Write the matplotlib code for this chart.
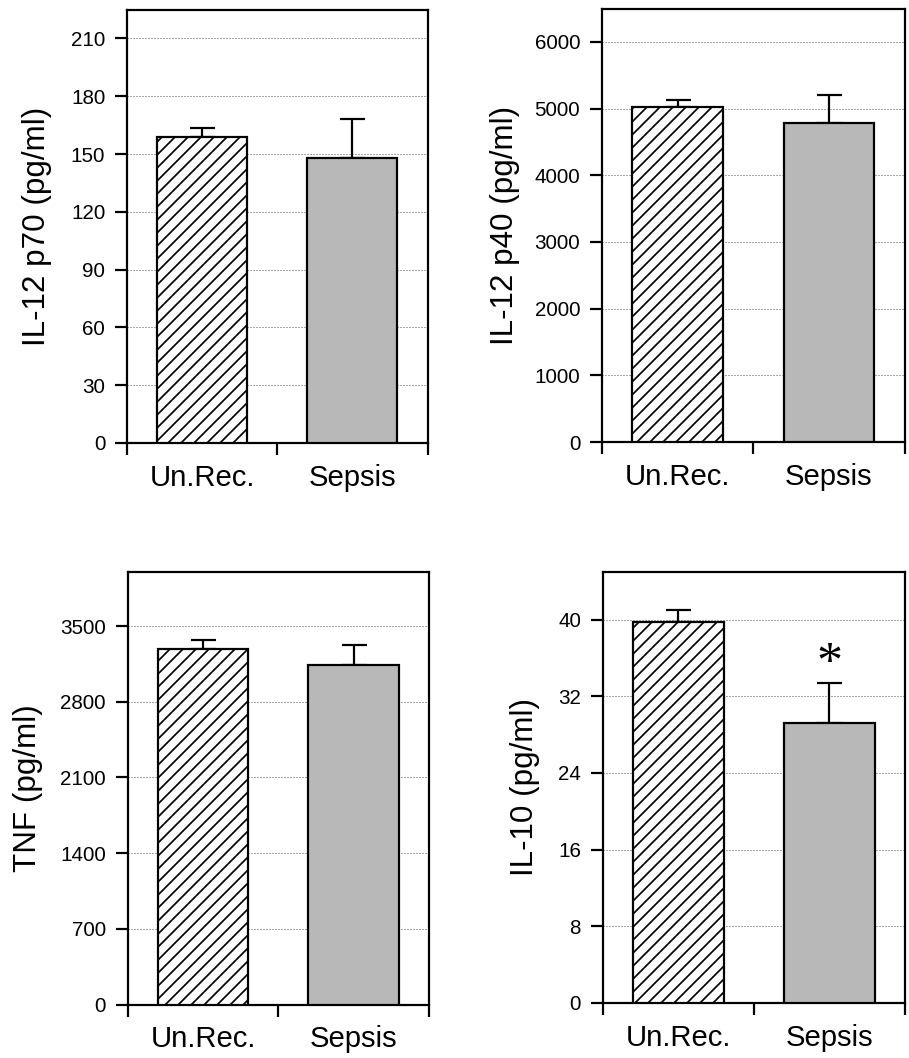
import matplotlib
matplotlib.use("Agg")
import matplotlib.pyplot as plt

DPI = 78
plt.rcParams['font.family'] = ['Liberation Sans', 'DejaVu Sans']
plt.rcParams['hatch.linewidth'] = 1.6

categories = ['Un.Rec.', 'Sepsis']

il12p70_means = [158.7, 147.8]
il12p70_errs = [4.9, 20.4]
il12p70_ticks = [0, 30, 60, 90, 120, 150, 180, 210]

il12p40_means = [5016, 4786]
il12p40_errs = [110, 419]
il12p40_ticks = [0, 1000, 2000, 3000, 4000, 5000, 6000]

tnf_means = [3291, 3138]
tnf_errs = [77, 184]
tnf_ticks = [0, 700, 1400, 2100, 2800, 3500]

il10_means = [39.75, 29.26]
il10_errs = [1.3, 4.17]
il10_ticks = [0, 8, 16, 24, 32, 40]

W, H = 909, 1058
fig = plt.figure(figsize=(W / DPI, H / DPI), dpi=DPI)

panels = [
    # (left, right, bottom, top) in pixels, data, ticks, ylim, ylabel, label x px, asterisk y
    ((127, 427.5, 443, 9.5), il12p70_means, il12p70_errs, il12p70_ticks, 225, 'IL-12 p70 (pg/ml)', 37, None),
    ((602, 904.5, 442, 8.5), il12p40_means, il12p40_errs, il12p40_ticks, 6500, 'IL-12 p40 (pg/ml)', 505, None),
    ((127.7, 429, 1004.5, 572), tnf_means, tnf_errs, tnf_ticks, 4000, 'TNF (pg/ml)', 28, None),
    ((602.7, 905, 1003, 571.7), il10_means, il10_errs, il10_ticks, 45, 'IL-10 (pg/ml)', 525, 35.3),
]

px2pt = 72 / DPI

for (l, r, b, t), means, errs, ticks, ytop, ylabel, labx, star in panels:
    ax = fig.add_axes([l / W, 1 - b / H, (r - l) / W, (b - t) / H])
    xpos = [0.5, 1.5]
    bars = ax.bar(xpos, means, width=0.6, color=['white', '#b8b8b8'],
                  edgecolor='black', linewidth=2.2 * px2pt, zorder=3)
    bars[0].set_hatch('//')
    ax.errorbar(xpos, means, yerr=[[0, 0], errs], fmt='none', ecolor='black',
                elinewidth=2.2 * px2pt, capsize=12.5 * px2pt, capthick=2.2 * px2pt, zorder=2)
    ax.set_xlim(0, 2)
    ax.set_ylim(0, ytop)
    ax.set_yticks(ticks)
    ax.set_yticklabels([str(v) for v in ticks])
    ax.set_xticks([0, 1, 2])
    ax.set_xticklabels(['', '', ''])
    ax.set_xticks(xpos, minor=True)
    ax.set_xticklabels(categories, minor=True)
    ax.tick_params(axis='x', which='minor', length=0, pad=19, labelsize=27)
    ax.tick_params(axis='both', which='major', direction='out', length=12 * px2pt,
                   width=2.2 * px2pt, labelsize=19, pad=10)
    ax.tick_params(axis='y', pad=9)
    for sp in ax.spines.values():
        sp.set_linewidth(2.2 * px2pt)
    ax.grid(axis='y', linestyle=(0, (1, 2)), color='#555555', linewidth=1 * px2pt, zorder=1)
    ax.set_axisbelow(True)
    ax.set_ylabel(ylabel, fontsize=29, va='center')
    ax.yaxis.set_label_coords((labx - l) / (r - l), 0.5)
    if star is not None:
        ax.text(1.5, star, '*', ha='center', va='center', fontsize=48,
                fontfamily=['Liberation Serif', 'DejaVu Serif'])

fig.savefig('out.png', dpi=DPI)
